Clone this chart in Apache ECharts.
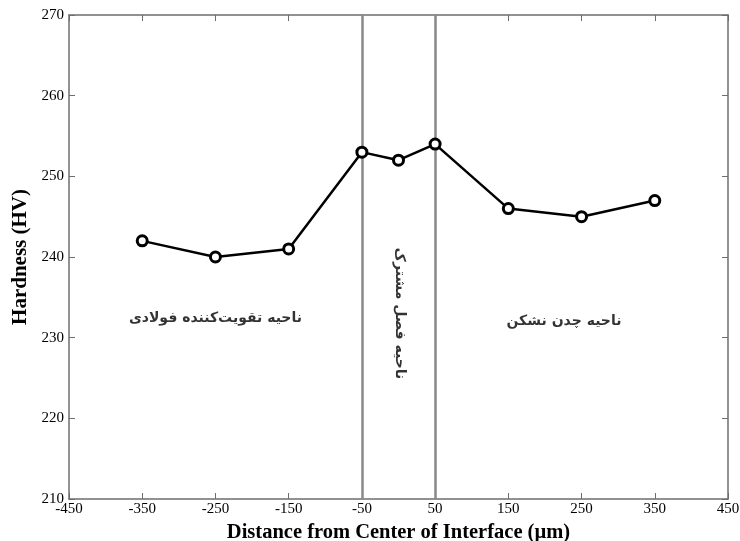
<!DOCTYPE html>
<html>
<head>
<meta charset="utf-8">
<script src="https://cdn.jsdelivr.net/npm/echarts@6/dist/echarts.min.js"></script>
<style>
  html, body { margin: 0; padding: 0; background: #fff; }
  #chart { width: 740px; height: 541px; }
</style>
</head>
<body>
<div id="chart"></div>
<script>
// Hardness profile across the interface
const distances = [-350, -250, -150, -50, 0, 50, 150, 250, 350];
const hardness = [242, 240, 241, 253, 252, 254, 246, 245, 247];
const zoneBoundaries = [-50, 50];
const xTicks = [-450, -350, -250, -150, -50, 50, 150, 250, 350, 450];
const yTicks = [210, 220, 230, 240, 250, 260, 270];

// Zone captions: [x, y, text, rotation]
const zoneLabels = [
  [-250, 232.4, 'ناحیه تقویت‌کننده فولادی', 0],
  [226, 232, 'ناحیه چدن نشکن', 0],
  [2, 233, 'ناحیه فصل مشترک', -90]
];

const serif = 'Liberation Serif';
const frame = '#6e6e6e';

const chart = echarts.init(document.getElementById('chart'));

const frameLine = { show: true, onZero: false, lineStyle: { color: frame, width: 1.5 } };
const tickStyle = (vals) => ({
  show: true, inside: true, length: 6, customValues: vals,
  lineStyle: { color: frame, width: 1 }
});

chart.setOption({
  animation: false,
  backgroundColor: '#fff',
  grid: { left: 69, right: 12, top: 15, bottom: 42, containLabel: false, outerBoundsMode: 'none' },
  xAxis: [
    {
      type: 'value', min: -450, max: 450, interval: 100, position: 'bottom',
      axisLine: frameLine, splitLine: { show: false },
      axisTick: tickStyle(xTicks),
      axisLabel: { color: '#000', fontFamily: serif, fontSize: 15, margin: 3,
        customValues: xTicks },
      name: 'Distance from Center of Interface (µm)',
      nameLocation: 'middle', nameGap: 19,
      nameTextStyle: { color: '#000', fontFamily: serif, fontSize: 20.5, fontWeight: 'bold' }
    },
    {
      type: 'value', min: -450, max: 450, interval: 100, position: 'top',
      axisLine: frameLine, splitLine: { show: false },
      axisLabel: { show: false },
      axisTick: tickStyle(xTicks)
    }
  ],
  yAxis: [
    {
      type: 'value', min: 210, max: 270, interval: 10, position: 'left',
      axisLine: frameLine, splitLine: { show: false },
      axisTick: tickStyle(yTicks),
      axisLabel: { color: '#000', fontFamily: serif, fontSize: 15, margin: 5,
        customValues: yTicks },
      name: 'Hardness (HV)', nameLocation: 'middle', nameGap: 36,
      nameTextStyle: { color: '#000', fontFamily: serif, fontSize: 21, fontWeight: 'bold' }
    },
    {
      type: 'value', min: 210, max: 270, interval: 10, position: 'right',
      axisLine: frameLine, splitLine: { show: false },
      axisLabel: { show: false },
      axisTick: tickStyle(yTicks)
    }
  ],
  series: [
    {
      type: 'line',
      data: distances.map((d, i) => [d, hardness[i]]),
      xAxisIndex: 0, yAxisIndex: 0,
      symbol: 'circle', symbolSize: 10,
      itemStyle: { color: '#fff', borderColor: '#000', borderWidth: 3 },
      lineStyle: { color: '#000', width: 2.5 },
      z: 5,
      markLine: {
        silent: true, symbol: ['none', 'none'],
        label: { show: false },
        lineStyle: { color: '#888', width: 2.5, type: 'solid' },
        data: zoneBoundaries.map(b => ({ xAxis: b }))
      }
    },
    {
      type: 'scatter',
      xAxisIndex: 0, yAxisIndex: 0,
      symbolSize: 0,
      silent: true,
      data: zoneLabels.map(z => ({
        value: [z[0], z[1]],
        label: {
          show: true, position: 'inside', formatter: z[2], rotate: z[3],
          color: '#000', fontFamily: 'DejaVu Sans', fontWeight: 'bold', fontSize: 14
        }
      }))
    }
  ]
});
</script>
</body>
</html>
